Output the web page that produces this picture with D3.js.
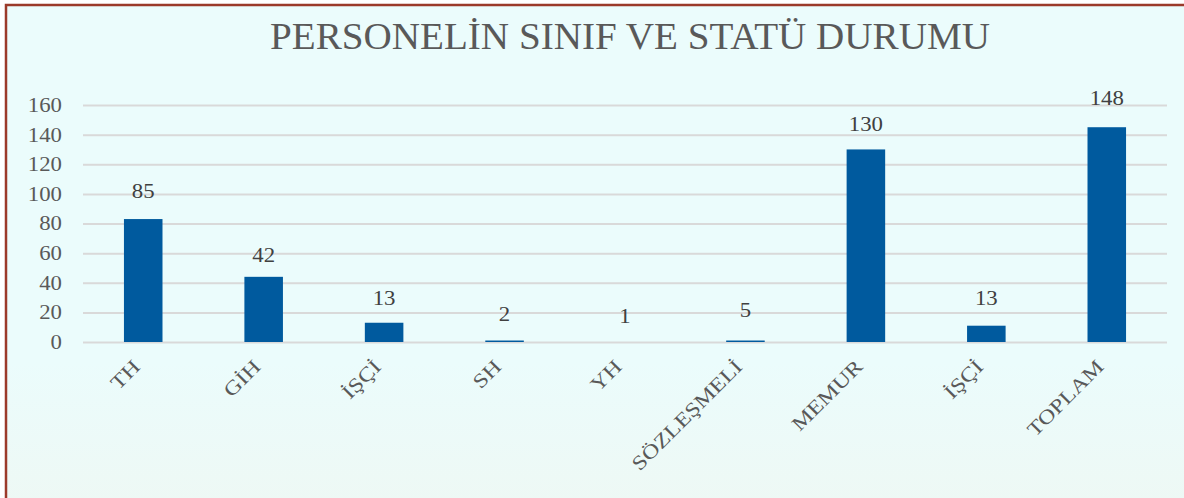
<!DOCTYPE html>
<html>
<head>
<meta charset="utf-8">
<script src="https://cdn.jsdelivr.net/npm/d3@7"></script>
<style>
  body { margin: 0; background: #fff; }
  svg text { font-family: "Palatino Linotype", "Book Antiqua", Palatino, "Liberation Serif", serif; }
</style>
</head>
<body>
<svg id="chart" width="1184" height="498"></svg>
<script>
const categories = ["TH", "GİH", "İŞÇİ", "SH", "YH", "SÖZLEŞMELİ", "MEMUR", "İŞÇİ", "TOPLAM"];
// bar heights as drawn in the picture
const barValues = [83, 44, 13, 1, 0, 1, 130, 11, 145];
// data label texts as printed above the bars
const labelValues = [85, 42, 13, 2, 1, 5, 130, 13, 148];
const yTicks = [0, 20, 40, 60, 80, 100, 120, 140, 160];
const title = "PERSONELİN SINIF VE STATÜ DURUMU";

const svg = d3.select("#chart");
const TEXT = "#595959";
const WIDEN = 1.14; // serif fallback is narrower than the original face

const defs = svg.append("defs");
const grad = defs.append("linearGradient").attr("id", "bg")
    .attr("x1", 0).attr("y1", 0).attr("x2", 0).attr("y2", 1);
grad.append("stop").attr("offset", "0%").attr("stop-color", "#ebfcfc");
grad.append("stop").attr("offset", "70%").attr("stop-color", "#ebfcfc");
grad.append("stop").attr("offset", "100%").attr("stop-color", "#eef8f4");

svg.append("rect")
    .attr("x", 6).attr("y", 5)
    .attr("width", 1190).attr("height", 510)
    .attr("fill", "url(#bg)")
    .attr("stroke", "#9b3a2a")
    .attr("stroke-width", 2.5);

let xscale = d3.scaleBand()
    .domain(d3.range(categories.length))
    .range([83, 1167])
    .paddingInner(0.68)
    .paddingOuter(0.34);

let yscale = d3.scaleLinear()
    .domain([0, 160])
    .range([342, 105]);

function widen(sel, k = WIDEN) {
    sel.each(function() {
        const len = this.getComputedTextLength();
        d3.select(this).attr("textLength", len * k).attr("lengthAdjust", "spacingAndGlyphs");
    });
}

svg.append("text")
    .attr("x", 630).attr("y", 49)
    .attr("text-anchor", "middle")
    .attr("fill", TEXT)
    .style("font-size", "38px")
    .attr("textLength", 720)
    .attr("lengthAdjust", "spacingAndGlyphs")
    .text(title);

// gridlines + y tick labels
const yAxis = d3.axisLeft(yscale)
    .tickValues(yTicks)
    .tickSize(-(1167 - 83))
    .tickPadding(21);
const gy = svg.append("g").attr("transform", "translate(83,0)").call(yAxis);
gy.select(".domain").remove();
gy.selectAll(".tick line").attr("stroke", "#d9d9d9").attr("stroke-width", 2);
gy.selectAll(".tick text")
    .attr("fill", TEXT)
    .style("font-size", "20px")
    .style("font-family", "\"Palatino Linotype\", \"Book Antiqua\", Palatino, \"Liberation Serif\", serif")
    .call(widen);

// bars
svg.selectAll(".bar").data(barValues).join("rect")
    .attr("class", "bar")
    .attr("x", (d, i) => xscale(i))
    .attr("y", d => yscale(d))
    .attr("width", xscale.bandwidth())
    .attr("height", d => yscale(0) - yscale(d))
    .attr("fill", "#005a9e");

// data labels
svg.selectAll(".label").data(labelValues).join("text")
    .attr("class", "label")
    .attr("x", (d, i) => xscale(i) + xscale.bandwidth() / 2)
    .attr("y", d => yscale(d) - 18)
    .attr("text-anchor", "middle")
    .attr("fill", "#404040")
    .style("font-size", "20px")
    .text(d => d)
    .call(widen);

// category labels, rotated
svg.selectAll(".cat").data(categories).join("text")
    .attr("class", "cat")
    .attr("text-anchor", "end")
    .attr("fill", TEXT)
    .style("font-size", "20px")
    .attr("transform", (d, i) => {
        const cx = xscale(i) + xscale.bandwidth() / 2 - 2;
        return `translate(${cx},${368}) rotate(-45)`;
    })
    .text(d => d)
    .call(widen, 1.2);
</script>
</body>
</html>
